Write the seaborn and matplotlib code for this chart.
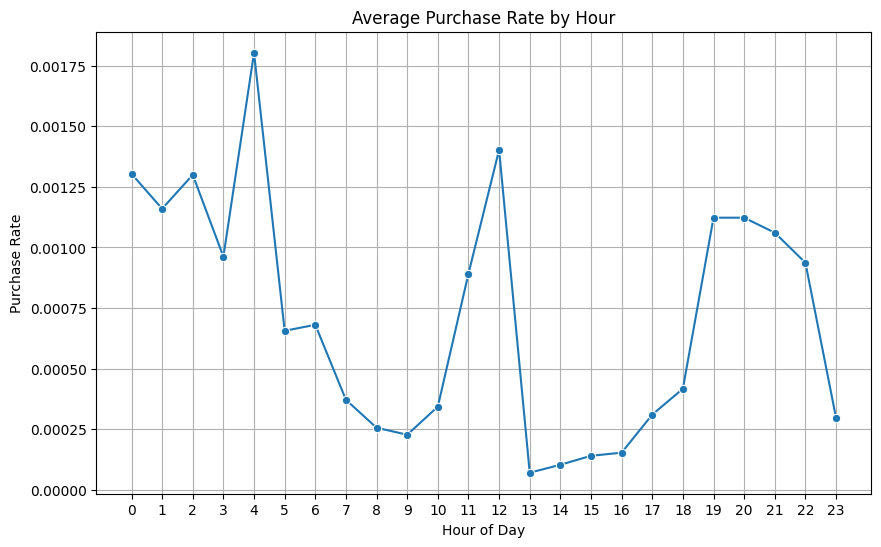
import numpy as np
import pandas as pd
import seaborn as sns
import matplotlib
matplotlib.use("Agg")
import matplotlib.pyplot as plt

hours = list(range(24))
purchase_rate = [0.001304, 0.00116, 0.0013, 0.000962, 0.001804, 0.000656,
                 0.000681, 0.000371, 0.000256, 0.000227, 0.000343, 0.000892,
                 0.001403, 0.0000702, 0.000103, 0.00014, 0.000153, 0.00031,
                 0.000417, 0.001123, 0.001123, 0.001061, 0.000937, 0.000297]

df = pd.DataFrame({"hour": hours, "purchase_rate": purchase_rate})

plt.figure(figsize=(10, 6))
sns.lineplot(data=df, x="hour", y="purchase_rate", marker="o")
plt.title("Average Purchase Rate by Hour")
plt.xlabel("Hour of Day")
plt.ylabel("Purchase Rate")
plt.xticks(hours)
plt.grid(True)
plt.savefig("out.png", dpi=100, bbox_inches="tight")
